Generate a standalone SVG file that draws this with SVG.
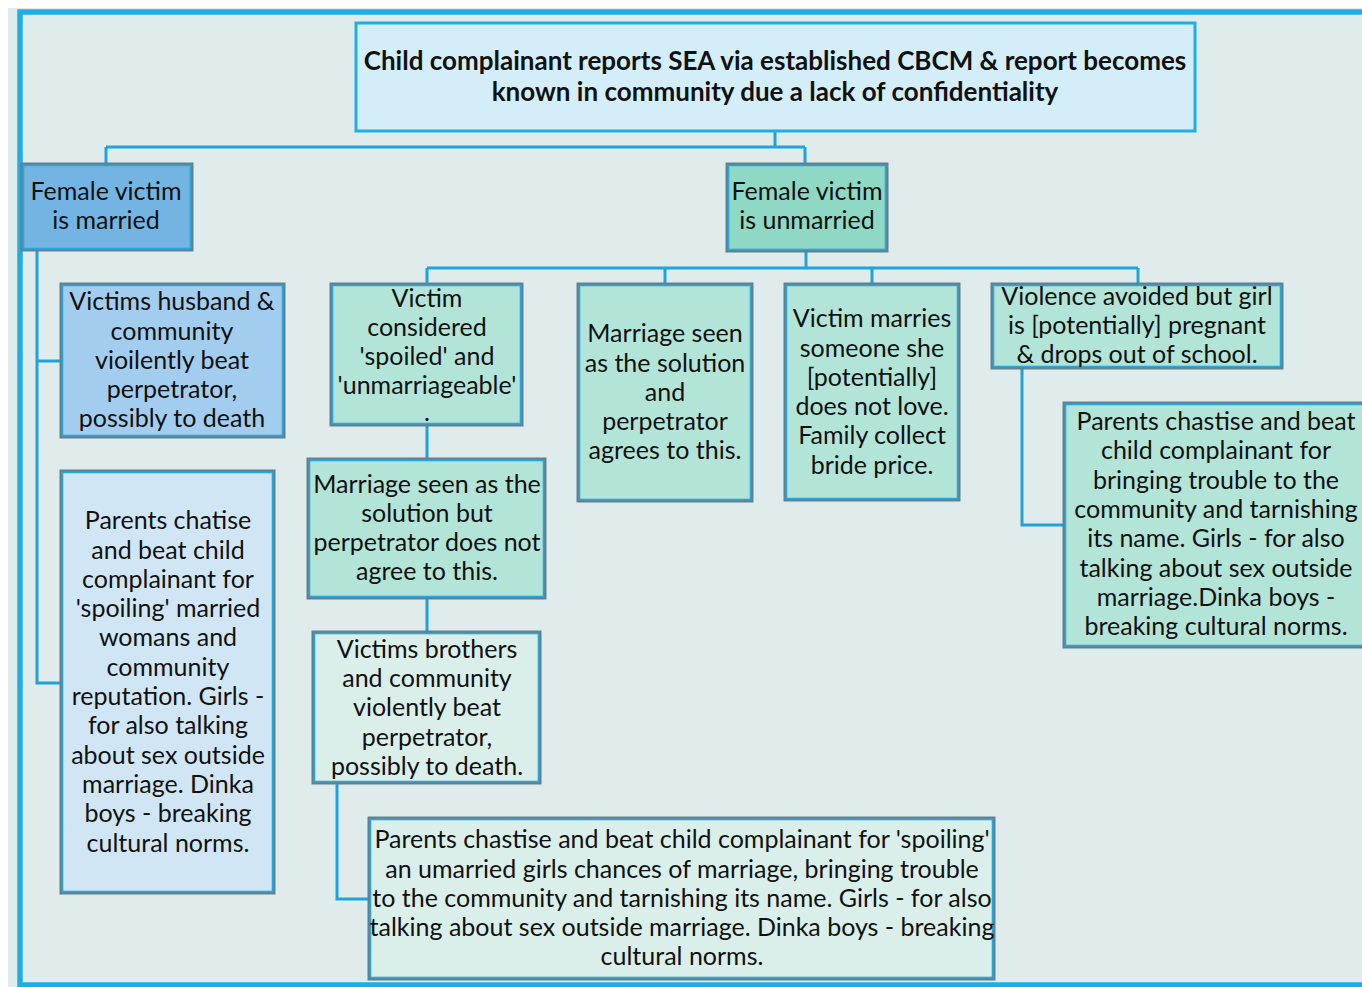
<svg xmlns="http://www.w3.org/2000/svg" width="1362" height="987" viewBox="0 0 1362 987">
<style>
.t{font-family:Lato,"Open Sans","Liberation Sans",sans-serif;font-size:25px;fill:#111;text-anchor:middle}
.tb{font-family:Lato,"Open Sans","Liberation Sans",sans-serif;font-size:26px;font-weight:bold;fill:#111;text-anchor:middle}
.bo{stroke:#63808d;stroke-width:3}
.bi{fill:none;stroke:#27a8e0;stroke-width:1.6}
.c{fill:none;stroke:#1fa3dc;stroke-width:3}
</style>
<rect x="0" y="0" width="1362" height="987" fill="#ffffff"/>
<rect x="8" y="8" width="1354" height="979" fill="#e0ecec"/>
<path d="M1370 12 H20 V985 H1370" fill="none" stroke="#1eaee3" stroke-width="5.5"/>

<g id="connectors">
<path class="c" d="M775 131 V147 M106 147 H805 M106 147 V164"/>
<path class="c" d="M805 147 V164" stroke="#1f86b8"/>
<path class="c" d="M37 250 V683 H61 M37 361 H61"/>
<path class="c" d="M806 251 V268 M427 268 H1138 M427 268 V284 M665 268 V284 M872 268 V284 M1138 268 V284"/>
<path class="c" d="M427 425 V459 M427 598 V632 M337 783 V899 H369"/>
<path class="c" d="M1022 368 V525 H1064"/>
</g>

<g id="top">
<rect x="356" y="23" width="839" height="108" fill="#d4eef9" stroke="#1eaee3" stroke-width="3"/>
<text class="tb" x="775" y="70">Child complainant reports SEA via established CBCM &amp; report becomes</text>
<text class="tb" x="775" y="101">known in community due a lack of confidentiality</text>
</g>

<g id="married">
<rect class="bo" x="22" y="164" width="170" height="86" fill="#74b4e2"/>
<rect class="bi" x="23.5" y="165.5" width="167" height="83"/>
<text class="t" x="106" y="200">Female victim</text>
<text class="t" x="106" y="229">is married</text>
</g>

<g id="unmarried">
<rect class="bo" x="727" y="164" width="160" height="87" fill="#8ed8c4"/>
<rect class="bi" x="728.5" y="165.5" width="157" height="84"/>
<text class="t" x="807" y="200">Female victim</text>
<text class="t" x="807" y="229">is unmarried</text>
</g>

<g id="husband">
<rect class="bo" x="61" y="284" width="223" height="153" fill="#a3cdee"/>
<rect class="bi" x="62.5" y="285.5" width="220" height="150"/>
<text class="t" x="172" y="310">Victims husband &amp;</text>
<text class="t" x="172" y="340">community</text>
<text class="t" x="172" y="369">vioilently beat</text>
<text class="t" x="172" y="398">perpetrator,</text>
<text class="t" x="172" y="427">possibly to death</text>
</g>

<g id="parents-married">
<rect class="bo" x="61" y="471" width="213" height="422" fill="#d1e6f5"/>
<rect class="bi" x="62.5" y="472.5" width="210" height="419"/>
<text class="t" x="168" y="529">Parents chatise</text>
<text class="t" x="168" y="559">and beat child</text>
<text class="t" x="168" y="588">complainant for</text>
<text class="t" x="168" y="617">'spoiling' married</text>
<text class="t" x="168" y="646">womans and</text>
<text class="t" x="168" y="676">community</text>
<text class="t" x="168" y="705">reputation. Girls -</text>
<text class="t" x="168" y="734">for also talking</text>
<text class="t" x="168" y="764">about sex outside</text>
<text class="t" x="168" y="793">marriage. Dinka</text>
<text class="t" x="168" y="822">boys - breaking</text>
<text class="t" x="168" y="852">cultural norms.</text>
</g>

<g id="spoiled">
<rect class="bo" x="331" y="284" width="191" height="141" fill="#b3e4d8"/>
<rect class="bi" x="332.5" y="285.5" width="188" height="138"/>
<text class="t" x="427" y="307">Victim</text>
<text class="t" x="427" y="336">considered</text>
<text class="t" x="427" y="365">'spoiled' and</text>
<text class="t" x="427" y="394">'unmarriageable'</text>
<text class="t" x="427" y="421">.</text>
</g>

<g id="not-agree">
<rect class="bo" x="308" y="459" width="237" height="139" fill="#b3e4d8"/>
<rect class="bi" x="309.5" y="460.5" width="234" height="136"/>
<text class="t" x="427" y="493">Marriage seen as the</text>
<text class="t" x="427" y="522">solution but</text>
<text class="t" x="427" y="551">perpetrator does not</text>
<text class="t" x="427" y="580">agree to this.</text>
</g>

<g id="brothers">
<rect class="bo" x="313" y="632" width="227" height="151" fill="#daeeea"/>
<rect class="bi" x="314.5" y="633.5" width="224" height="148"/>
<text class="t" x="427" y="658">Victims brothers</text>
<text class="t" x="427" y="687">and community</text>
<text class="t" x="427" y="716">violently beat</text>
<text class="t" x="427" y="746">perpetrator,</text>
<text class="t" x="427" y="775">possibly to death.</text>
</g>

<g id="parents-unmarried">
<rect class="bo" x="369" y="818" width="625" height="161" fill="#daeeea"/>
<rect class="bi" x="370.5" y="819.5" width="622" height="158"/>
<text class="t" x="682" y="848">Parents chastise and beat child complainant for 'spoiling'</text>
<text class="t" x="682" y="878">an umarried girls chances of marriage, bringing trouble</text>
<text class="t" x="682" y="907">to the community and tarnishing its name. Girls - for also</text>
<text class="t" x="682" y="936">talking about sex outside marriage. Dinka boys - breaking</text>
<text class="t" x="682" y="965">cultural norms.</text>
</g>

<g id="agrees">
<rect class="bo" x="578" y="284" width="174" height="217" fill="#b3e4d8"/>
<rect class="bi" x="579.5" y="285.5" width="171" height="214"/>
<text class="t" x="665" y="342">Marriage seen</text>
<text class="t" x="665" y="372">as the solution</text>
<text class="t" x="665" y="401">and</text>
<text class="t" x="665" y="430">perpetrator</text>
<text class="t" x="665" y="459">agrees to this.</text>
</g>

<g id="marries">
<rect class="bo" x="785" y="284" width="174" height="216" fill="#b3e4d8"/>
<rect class="bi" x="786.5" y="285.5" width="171" height="213"/>
<text class="t" x="872" y="327">Victim marries</text>
<text class="t" x="872" y="357">someone she</text>
<text class="t" x="872" y="386">[potentially]</text>
<text class="t" x="872" y="415">does not love.</text>
<text class="t" x="872" y="444">Family collect</text>
<text class="t" x="872" y="474">bride price.</text>
</g>

<g id="pregnant">
<rect class="bo" x="992" y="284" width="290" height="84" fill="#b3e4d8"/>
<rect class="bi" x="993.5" y="285.5" width="287" height="81"/>
<text class="t" x="1137" y="305">Violence avoided but girl</text>
<text class="t" x="1137" y="334">is [potentially] pregnant</text>
<text class="t" x="1137" y="363">&amp; drops out of school.</text>
</g>

<g id="parents-pregnant">
<rect class="bo" x="1064" y="403" width="310" height="244" fill="#b3e4d8"/>
<rect class="bi" x="1065.5" y="404.5" width="307" height="241"/>
<text class="t" x="1216" y="430">Parents chastise and beat</text>
<text class="t" x="1216" y="459">child complainant for</text>
<text class="t" x="1216" y="489">bringing trouble to the</text>
<text class="t" x="1216" y="518">community and tarnishing</text>
<text class="t" x="1216" y="547">its name. Girls - for also</text>
<text class="t" x="1216" y="577">talking about sex outside</text>
<text class="t" x="1216" y="606">marriage.Dinka boys -</text>
<text class="t" x="1216" y="635">breaking cultural norms.</text>
</g>
</svg>
